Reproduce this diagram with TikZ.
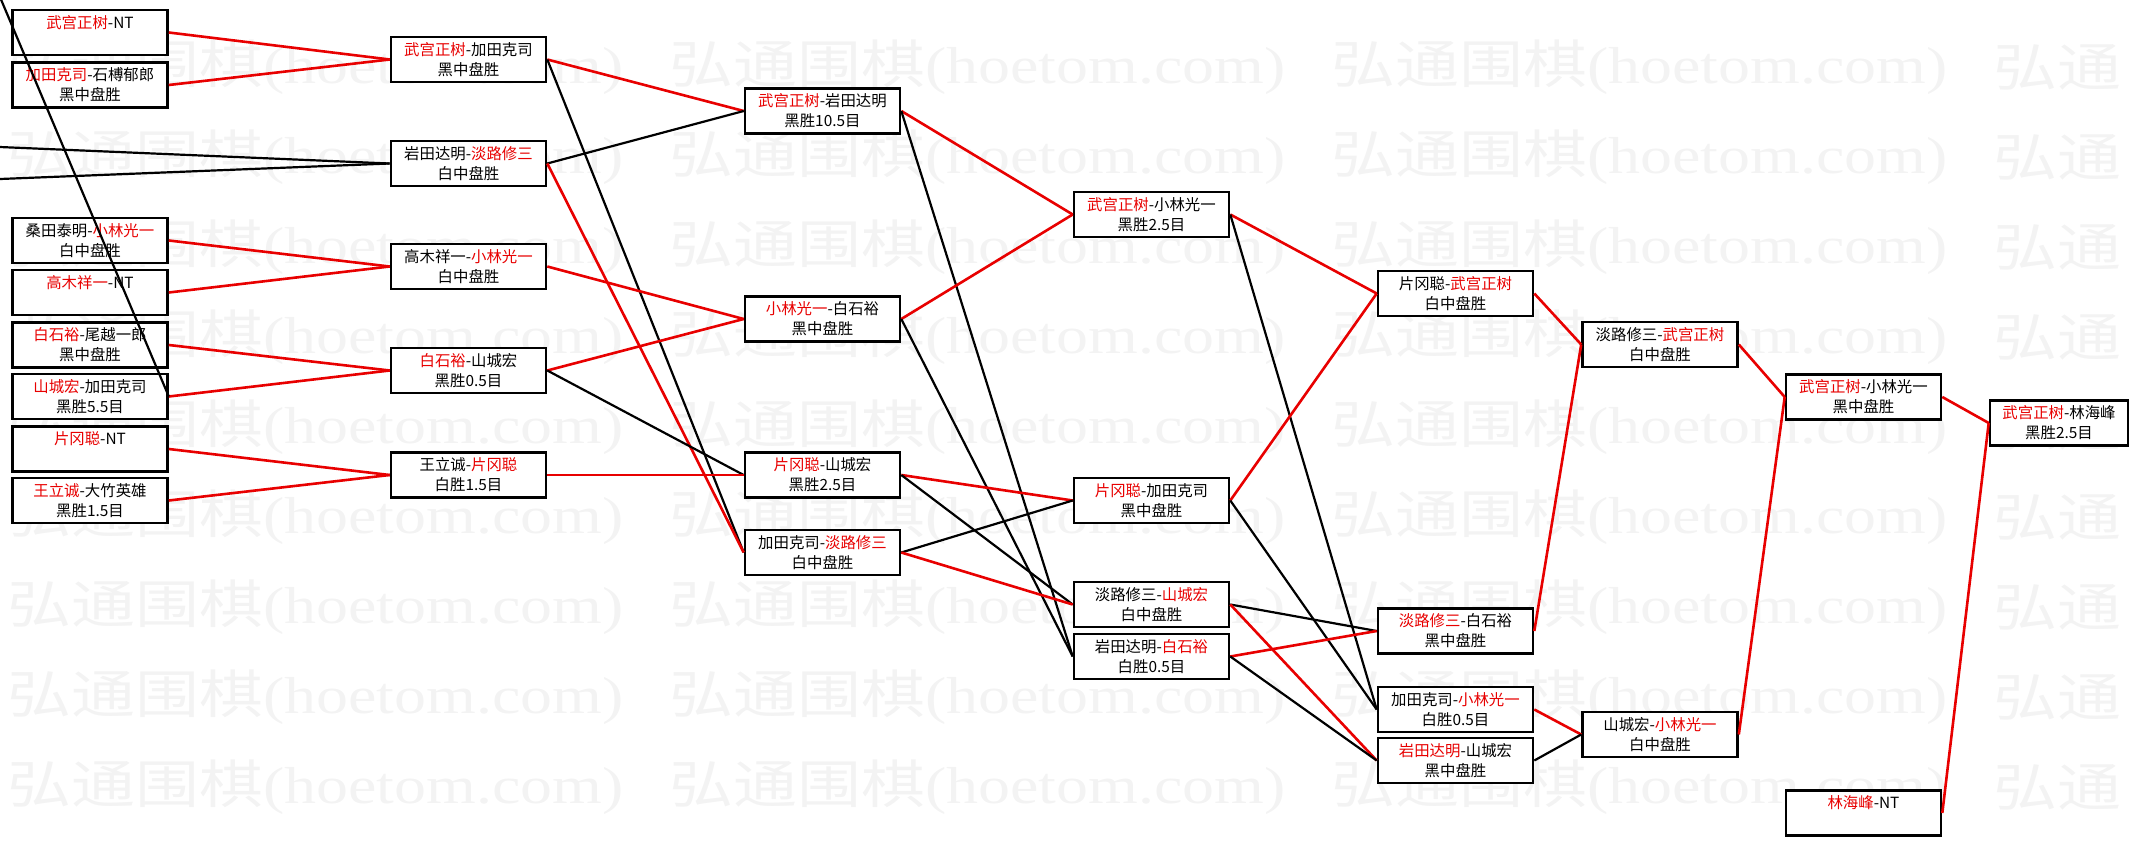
\documentclass[tikz,border=0pt]{standalone}
\usepackage{fontspec}
\newfontfamily\cjk{Noto Sans CJK SC}
\newfontfamily\wmlat{Liberation Serif}
\definecolor{winred}{RGB}{232,0,0}
\definecolor{marktext}{RGB}{243,243,243}
\newcommand{\wn}[1]{\textcolor{winred}{#1}}
\newcommand{\hoetom}{弘通围棋{\wmlat(hoetom.com)}}

\begin{document}
\begin{tikzpicture}[
    x=1pt, y=-1pt,
    game/.style={
        draw,
        rectangle,
        fill=white,
        line width=2.6pt,
        minimum height=45pt,
        minimum width=155pt,
        inner sep=2pt,
        align=center,
        font=\cjk\fontsize{15.4}{20}\selectfont
    },
    wmark/.style={anchor=west, inner sep=0pt, text=marktext,
        font=\cjk\fontsize{52}{52}\selectfont},
    win/.style={draw=winred, line width=2.6pt},
    lose/.style={draw=black, line width=2.2pt}
]
\useasboundingbox (0,0) rectangle (2139,845);

% Watermark
\foreach \wy in {67,157,...,787} {
    \foreach \wx in {7,669,1331}
        \node[wmark] (wm-\wx-\wy) at (\wx,\wy) {\scalebox{1.23}[1]{\hoetom}};
    \node[wmark] (wm-1993-\wy) at (1993,\wy) {\scalebox{1.23}[1]{弘通}};
}

% Round 1
\node[game] (r1a) at (90,32.5) {\wn{武宫正树}-NT\\\phantom{中}};
\node[game] (r1b) at (90,85) {\wn{加田克司}-石榑郁郎\\黑中盘胜};
\node[game] (r1c) at (90,240.5) {桑田泰明-\wn{小林光一}\\白中盘胜};
\node[game] (r1d) at (90,292.5) {\wn{高木祥一}-NT\\\phantom{中}};
\node[game] (r1e) at (90,345) {\wn{白石裕}-尾越一郎\\黑中盘胜};
\node[game] (r1f) at (90,396.5) {\wn{山城宏}-加田克司\\黑胜5.5目};
\node[game] (r1g) at (90,449) {\wn{片冈聪}-NT\\\phantom{中}};
\node[game] (r1h) at (90,500.5) {\wn{王立诚}-大竹英雄\\黑胜1.5目};

% Round 2
\node[game] (r2a) at (468.5,59.5) {\wn{武宫正树}-加田克司\\黑中盘胜};
\node[game] (r2b) at (468.5,163.5) {岩田达明-\wn{淡路修三}\\白中盘胜};
\node[game] (r2c) at (468.5,266.5) {高木祥一-\wn{小林光一}\\白中盘胜};
\node[game] (r2d) at (468.5,370.5) {\wn{白石裕}-山城宏\\黑胜0.5目};
\node[game] (r2e) at (468.5,475) {王立诚-\wn{片冈聪}\\白胜1.5目};

% Round 3
\node[game] (r3a) at (822.5,111) {\wn{武宫正树}-岩田达明\\黑胜10.5目};
\node[game] (r3b) at (822.5,319) {\wn{小林光一}-白石裕\\黑中盘胜};
\node[game] (r3c) at (822.5,475) {\wn{片冈聪}-山城宏\\黑胜2.5目};
\node[game] (r3d) at (822.5,552.5) {加田克司-\wn{淡路修三}\\白中盘胜};

% Round 4
\node[game] (r4a) at (1151.5,214.5) {\wn{武宫正树}-小林光一\\黑胜2.5目};
\node[game] (r4b) at (1151.5,500.5) {\wn{片冈聪}-加田克司\\黑中盘胜};
\node[game] (r4c) at (1151.5,604.5) {淡路修三-\wn{山城宏}\\白中盘胜};
\node[game] (r4d) at (1151.5,656.5) {岩田达明-\wn{白石裕}\\白胜0.5目};

% Round 5
\node[game] (r5a) at (1455.5,293.5) {片冈聪-\wn{武宫正树}\\白中盘胜};
\node[game] (r5b) at (1455.5,631) {\wn{淡路修三}-白石裕\\黑中盘胜};
\node[game] (r5c) at (1455.5,709.5) {加田克司-\wn{小林光一}\\白胜0.5目};
\node[game] (r5d) at (1455.5,760.5) {\wn{岩田达明}-山城宏\\黑中盘胜};

% Rounds 6 to 8
\node[game] (r6a) at (1660,344.5) {淡路修三-\wn{武宫正树}\\白中盘胜};
\node[game] (r6b) at (1660,734.5) {山城宏-\wn{小林光一}\\白中盘胜};
\node[game] (r7a) at (1863.5,397) {\wn{武宫正树}-小林光一\\黑中盘胜};
\node[game] (r7b) at (1863.5,813) {\wn{林海峰}-NT\\\phantom{中}};
\node[game, minimum width=138pt] (r8a) at (2059,423) {\wn{武宫正树}-林海峰\\黑胜2.5目};

% Lines from outside the picture
\coordinate (offtop) at (-3,-10);
\coordinate (offleft1) at (-10,146.6);
\coordinate (offleft2) at (-10,179.4);

% Round 1 to round 2
\draw[win] (r1a.east) -- (r2a.west);
\draw[win] (r1b.east) -- (r2a.west);
\draw[lose] (offleft1) -- (r2b.west);
\draw[lose] (offleft2) -- (r2b.west);
\draw[win] (r1c.east) -- (r2c.west);
\draw[win] (r1d.east) -- (r2c.west);
\draw[win] (r1e.east) -- (r2d.west);
\draw[win] (r1f.east) -- (r2d.west);
\draw[win] (r1g.east) -- (r2e.west);
\draw[win] (r1h.east) -- (r2e.west);
\draw[lose] (offtop) -- (r1f.east);

% Round 2 to round 3
\draw[win] (r2a.east) -- (r3a.west);
\draw[lose] (r2a.east) -- (r3d.west);
\draw[lose] (r2b.east) -- (r3a.west);
\draw[win] (r2b.east) -- (r3d.west);
\draw[win] (r2c.east) -- (r3b.west);
\draw[win] (r2d.east) -- (r3b.west);
\draw[lose] (r2d.east) -- (r3c.west);
\draw[win] (r2e.east) -- (r3c.west);

% Round 3 to round 4
\draw[win] (r3a.east) -- (r4a.west);
\draw[lose] (r3a.east) -- (r4d.west);
\draw[win] (r3b.east) -- (r4a.west);
\draw[lose] (r3b.east) -- (r4d.west);
\draw[win] (r3c.east) -- (r4b.west);
\draw[lose] (r3c.east) -- (r4c.west);
\draw[lose] (r3d.east) -- (r4b.west);
\draw[win] (r3d.east) -- (r4c.west);

% Round 4 to round 5
\draw[win] (r4a.east) -- (r5a.west);
\draw[lose] (r4a.east) -- (r5c.west);
\draw[win] (r4b.east) -- (r5a.west);
\draw[lose] (r4b.east) -- (r5c.west);
\draw[lose] (r4c.east) -- (r5b.west);
\draw[win] (r4c.east) -- (r5d.west);
\draw[win] (r4d.east) -- (r5b.west);
\draw[lose] (r4d.east) -- (r5d.west);

% Final rounds
\draw[win] (r5a.east) -- (r6a.west);
\draw[win] (r5b.east) -- (r6a.west);
\draw[win] (r5c.east) -- (r6b.west);
\draw[lose] (r5d.east) -- (r6b.west);
\draw[win] (r6a.east) -- (r7a.west);
\draw[win] (r6b.east) -- (r7a.west);
\draw[win] (r7a.east) -- (r8a.west);
\draw[win] (r7b.east) -- (r8a.west);

\end{tikzpicture}
\end{document}
